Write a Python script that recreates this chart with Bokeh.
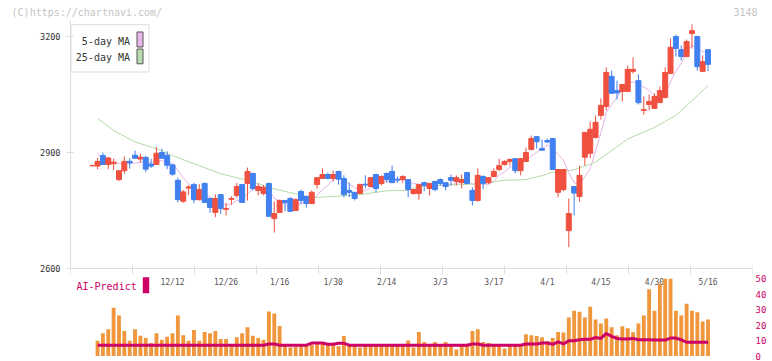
import numpy as np
import pandas as pd
from bokeh.plotting import figure
from bokeh.models import Range1d, LinearAxis, FixedTicker, Span
from bokeh.core.properties import value
from bokeh.embed import file_html
from bokeh.resources import INLINE

# ---------------- data ----------------
holidays = ["2024-12-31", "2025-01-01", "2025-01-02", "2025-01-03", "2025-01-13",
            "2025-02-11", "2025-02-24", "2025-03-20", "2025-04-29", "2025-05-05", "2025-05-06"]
days = [d for d in pd.bdate_range("2024-11-21", "2025-05-16") if d.strftime("%Y-%m-%d") not in holidays]
dates = [f"{d.month}/{d.day}" for d in days]

tick_labels = ["12/12", "12/26", "1/16", "1/30", "2/14", "3/3", "3/17", "4/1", "4/15", "4/30", "5/16"]

opens = [2866, 2865, 2892, 2869, 2871, 2830, 2853, 2877, 2893, 2883,
         2887, 2870, 2869, 2900, 2893, 2868, 2828, 2774, 2808, 2817,
         2778, 2820, 2781, 2745, 2791, 2753, 2779, 2789, 2817, 2820,
         2846, 2802, 2794, 2820, 2729, 2745, 2776, 2781, 2750, 2799,
         2786, 2768, 2817, 2833, 2843, 2833, 2851, 2833, 2802, 2797,
         2794, 2818, 2812, 2843, 2820, 2846, 2851, 2831, 2830, 2830,
         2794, 2794, 2822, 2807, 2825, 2830, 2822, 2835, 2825, 2822,
         2848, 2802, 2776, 2838, 2822, 2838, 2856, 2869, 2877, 2884,
         2853, 2877, 2908, 2941, 2910, 2931, 2936, 2797, 2804, 2698,
         2812, 2786, 2888, 2898, 2939, 2996, 3019, 3097, 3060, 3058,
         3058, 3110, 3086, 3009, 3024, 3014, 3029, 3042, 3104, 3200,
         3166, 3148, 3208, 3200, 3110, 3166]
highs = [2868, 2886, 2900, 2888, 2884, 2853, 2890, 2885, 2905, 2897,
         2892, 2884, 2914, 2910, 2903, 2869, 2835, 2803, 2815, 2822,
         2818, 2822, 2783, 2792, 2793, 2770, 2787, 2822, 2819, 2861,
         2847, 2820, 2816, 2822, 2773, 2778, 2777, 2785, 2781, 2804,
         2789, 2802, 2836, 2859, 2848, 2853, 2852, 2841, 2822, 2798,
         2820, 2841, 2836, 2845, 2841, 2848, 2866, 2838, 2841, 2831,
         2806, 2819, 2825, 2821, 2827, 2833, 2823, 2843, 2841, 2843,
         2850, 2810, 2859, 2841, 2836, 2859, 2884, 2880, 2884, 2885,
         2886, 2913, 2944, 2942, 2934, 2936, 2938, 2856, 2856, 2781,
         2812, 2866, 2953, 2980, 2996, 3040, 3120, 3112, 3086, 3077,
         3125, 3146, 3102, 3045, 3050, 3053, 3071, 3120, 3195, 3205,
         3177, 3192, 3231, 3202, 3151, 3167]
lows = [2864, 2857, 2868, 2857, 2855, 2826, 2845, 2858, 2884, 2874,
        2849, 2860, 2869, 2884, 2857, 2840, 2771, 2770, 2790, 2769,
        2776, 2770, 2744, 2733, 2741, 2737, 2765, 2783, 2770, 2776,
        2802, 2789, 2789, 2733, 2693, 2744, 2748, 2747, 2749, 2766,
        2758, 2768, 2807, 2833, 2830, 2825, 2817, 2784, 2785, 2776,
        2793, 2807, 2811, 2797, 2815, 2822, 2822, 2822, 2822, 2784,
        2791, 2778, 2800, 2789, 2800, 2815, 2802, 2815, 2815, 2807,
        2818, 2763, 2773, 2805, 2818, 2836, 2851, 2866, 2866, 2846,
        2841, 2875, 2905, 2910, 2905, 2925, 2855, 2784, 2800, 2655,
        2737, 2773, 2866, 2885, 2936, 2985, 3009, 3053, 3037, 3032,
        3056, 3104, 3024, 2998, 3009, 3014, 3028, 3040, 3103, 3148,
        3138, 3147, 3169, 3112, 3108, 3110]
closes = [2866, 2877, 2869, 2886, 2875, 2853, 2877, 2873, 2885, 2888,
          2857, 2865, 2898, 2885, 2867, 2844, 2778, 2798, 2811, 2778,
          2804, 2771, 2758, 2781, 2755, 2755, 2781, 2812, 2771, 2851,
          2807, 2812, 2810, 2735, 2742, 2776, 2770, 2748, 2778, 2776,
          2768, 2797, 2835, 2843, 2833, 2843, 2831, 2791, 2797, 2781,
          2817, 2816, 2835, 2807, 2838, 2830, 2822, 2829, 2838, 2804,
          2804, 2817, 2815, 2820, 2804, 2820, 2812, 2828, 2835, 2830,
          2820, 2776, 2841, 2820, 2835, 2851, 2866, 2877, 2882, 2853,
          2884, 2900, 2936, 2928, 2906, 2927, 2856, 2856, 2856, 2742,
          2795, 2841, 2952, 2960, 2978, 3022, 3107, 3053, 3054, 3076,
          3115, 3115, 3029, 3011, 3032, 3045, 3060, 3107, 3172, 3169,
          3148, 3187, 3215, 3122, 3135, 3128]
# closes of the three sessions before the first candle (feed the 5-day MA)
pre_closes = [2929, 2936, 2877]

# 25-day moving average, read at these candles
ma25_idx = [1, 4, 8, 12, 15, 19, 24, 29, 34, 38, 41, 46, 50, 55, 59, 61, 65, 69, 72, 77,
            81, 84, 86, 90, 94, 97, 100, 105, 109, 112, 115]
ma25_val = [2988, 2957, 2927, 2910, 2892, 2871, 2845, 2828, 2806, 2793, 2783, 2787, 2791,
            2801, 2802, 2812, 2815, 2817, 2819, 2828, 2830, 2840, 2849, 2855, 2875, 2905,
            2935, 2965, 2996, 3034, 3073]

# volume panel (candles 1..115)
volume = [9.9, 14.8, 17.3, 31.2, 26.2, 16.2, 9.9, 17.3, 13.1, 11.6,
          8.4, 14.8, 10.5, 12.4, 14.8, 26.2, 13.5, 9.9, 16.9, 9.9,
          15.6, 14.8, 16.2, 11.0, 11.0, 7.0, 12.2, 14.8, 18.6, 13.1,
          11.6, 10.5, 28.9, 27.6, 19.4, 6.8, 5.5, 5.9, 7.2, 7.2,
          7.2, 8.2, 8.6, 7.2, 7.2, 6.3, 12.9, 6.8, 6.8, 5.5,
          6.8, 6.5, 6.5, 6.5, 6.5, 6.5, 6.5, 6.5, 10.0, 5.5,
          15.6, 9.0, 6.8, 9.0, 6.8, 9.0, 6.8, 4.2, 6.8, 6.8,
          16.2, 17.3, 9.0, 8.4, 6.8, 6.8, 4.9, 6.8, 6.8, 6.8,
          14.1, 13.5, 12.9, 12.2, 9.7, 11.6, 15.6, 15.2, 24.9, 29.3,
          28.7, 24.9, 31.9, 23.6, 21.1, 24.3, 18.6, 13.5, 19.2, 17.9,
          15.4, 21.1, 26.2, 43.2, 29.3, 46.8, 50.0, 50.0, 29.3, 26.2,
          33.8, 29.3, 28.3, 22.4, 23.6]
ai_predict = [7.0] * 32 + [7.8, 7.8] + [7.0] * 6 + [8.4, 8.4, 8.4, 7.6, 7.6, 8.2, 8.2] + [7.0] * 23 + \
             [7.8, 7.8] + [7.0] * 8 + [7.8, 7.8, 7.8, 8.4, 8.4, 7.6, 9.1, 7.8, 9.9, 9.9,
             10.5, 10.8, 10.8, 12.0, 11.4, 14.6, 12.7, 11.4, 11.0, 11.0,
             11.4, 10.5, 10.5, 10.5, 10.3, 10.3, 10.3, 11.6, 11.6, 10.5,
             8.9, 8.9, 8.9, 8.9, 8.9]

vol_ticks = [0, 10, 20, 30, 40, 50]
price_ticks = [2600, 2900, 3200]
header_texts = {-1: "(C)https://chartnavi.com/", 122: "3148"}

# ---------------- layout helpers (page pixel -> data) ----------------
PX_I0, PX_STEP = 91.7, 5.355          # x of first candle, px per session
PX_3200, PX_PER_YEN = 36.0, 116.0 / 300.0
FRAME_L, FRAME_R, FRAME_T, FRAME_B = 70, 752, 20, 357
VOL_0, VOL_50 = 355.5, 278.3          # page y of volume 0 and 50
VOL_PX = (VOL_0 - VOL_50) / 50.0


def xd(px):
    return (px - PX_I0) / PX_STEP


def yd(py):
    return 3200 - (py - PX_3200) / PX_PER_YEN


x_start, x_end = xd(FRAME_L), xd(FRAME_R)
y_start, y_end = yd(FRAME_B), yd(FRAME_T)
v_start = -(FRAME_B - VOL_0) / VOL_PX
v_end = v_start + (FRAME_B - FRAME_T) / VOL_PX

FONT = value("DejaVu Sans Mono")
UP, DOWN = "#f0503f", "#4080f0"

n = len(closes)
idx = list(range(n))
colors = [UP if c >= o else DOWN for o, c in zip(opens, closes)]
tops = [max(o, c) for o, c in zip(opens, closes)]
bots = [min(o, c) for o, c in zip(opens, closes)]
ma5 = pd.Series(pre_closes + closes).rolling(5).mean().tolist()[len(pre_closes):]
vx = list(range(1, n))

W, H = 772, 361
p = figure(width=W, height=H, output_backend="svg", toolbar_location=None,
           x_range=Range1d(x_start, x_end), y_range=Range1d(y_start, y_end),
           x_axis_location=None, min_border_left=FRAME_L, min_border_right=W - FRAME_R,
           min_border_top=FRAME_T, min_border_bottom=H - FRAME_B)
p.outline_line_color = None
p.xgrid.visible = False
p.ygrid.visible = False
p.background_fill_color = "white"
p.border_fill_color = "white"

ax = p.yaxis[0]
ax.ticker = FixedTicker(ticks=price_ticks)
ax.bounds = (2600, y_end)
ax.axis_line_color = "#dddddd"
ax.major_tick_line_color = "#dddddd"
ax.major_tick_out = 4
ax.major_tick_in = 3
ax.minor_tick_line_color = None
ax.major_label_text_font = "DejaVu Sans Mono"
ax.major_label_text_font_size = "8.5px"
ax.major_label_text_color = "#333333"
ax.major_label_standoff = 6

p.extra_y_ranges = {"vol": Range1d(v_start, v_end)}
rax = LinearAxis(y_range_name="vol", ticker=FixedTicker(ticks=vol_ticks))
rax.axis_line_color = None
rax.major_tick_line_color = None
rax.minor_tick_line_color = None
rax.major_tick_out = 0
rax.major_tick_in = 0
rax.major_label_text_font = "DejaVu Sans Mono"
rax.major_label_text_font_size = "9px"
rax.major_label_text_color = "#cc0066"
rax.major_label_standoff = 3
p.add_layout(rax, "right")

# header texts (watermark and stock code) carried by an axis above the frame
tax = LinearAxis(ticker=FixedTicker(ticks=list(header_texts.keys())),
                 major_label_overrides=header_texts)
tax.axis_line_color = None
tax.major_tick_line_color = None
tax.minor_tick_line_color = None
tax.major_tick_out = 0
tax.major_tick_in = 0
tax.major_label_text_font = "DejaVu Sans Mono"
tax.major_label_text_font_size = "10px"
tax.major_label_text_color = "#c4c4c4"
tax.major_label_standoff = 3
p.add_layout(tax, "above")

# x axis line at 2600 and its ticks
p.add_layout(Span(location=2600, dimension="width", line_color="#dddddd", line_width=1))
xt = [x_start + k * (x_end - x_start) / 11 for k in range(12)]
p.segment(x0=xt, y0=[yd(265)] * 12, x1=xt, y1=[yd(274)] * 12, line_color="#dddddd", line_width=1)

# date labels
lab_x = [dates.index(t) for t in tick_labels]
p.text(x=lab_x, y=[yd(282)] * len(lab_x), text=tick_labels, text_font=FONT, text_font_size="8px",
       text_color="#555555", text_align="center", text_baseline="middle")

# moving averages
p.line(idx[1:], ma5[1:], line_color="#e6b0e8", line_width=1)
p.line(ma25_idx, ma25_val, line_color="#b4dca8", line_width=1)

# candles
p.segment(x0=idx, y0=lows, x1=idx, y1=highs, line_color=colors, line_width=1)
p.vbar(x=idx, top=tops, bottom=bots, width=0.93, fill_color=colors, line_color=colors, line_width=1)

# volume + AI line
p.vbar(x=vx, top=volume, bottom=0, width=0.72, y_range_name="vol", fill_color="#f0963c", line_color=None)
p.line(vx, ai_predict, y_range_name="vol", line_color="#cc0066", line_width=3)

# legend box
p.quad(left=[xd(70.5)], right=[xd(148.5)], top=[yd(24.2)], bottom=[yd(71.5)],
       fill_color="white", line_color="#dddddd", line_width=1)
p.text(x=[xd(129.5)] * 2, y=[yd(41), yd(56.7)], text=["5-day MA", "25-day MA"], text_font=FONT,
       text_font_size="10px", text_color="#333333", text_align="right", text_baseline="middle")
p.quad(left=[xd(136.5)] * 2, right=[xd(142.5)] * 2, top=[yd(31.5), yd(48.5)], bottom=[yd(46.5), yd(63.3)],
       fill_color=["#e8b8ea", "#b8dcb0"], line_color="#555555", line_width=1)

# AI-Predict label
p.text(x=[xd(76)], y=[yd(286)], text=["AI-Predict"], text_font=FONT, text_font_size="10px",
       text_color="#cc0066", text_align="left", text_baseline="middle")
p.quad(left=[xd(142.3)], right=[xd(148.7)], top=[yd(276.7)], bottom=[yd(292.7)],
       fill_color="#cc0066", line_color=None)

open("out.html", "w").write(file_html(p, INLINE))
